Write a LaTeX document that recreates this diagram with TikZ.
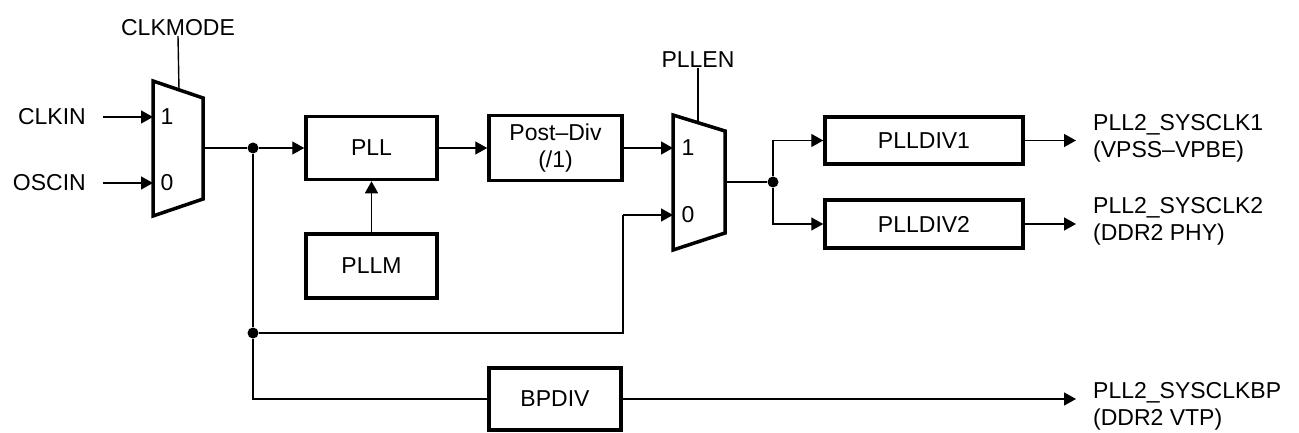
\documentclass[tikz,border=0pt]{standalone}
\usepackage{fontspec}
\setmainfont{Liberation Sans}
\usetikzlibrary{arrows.meta}

\begin{document}
\begin{tikzpicture}[x=1pt,y=-1pt,>={Triangle[length=12pt,width=13pt]},
  every node/.style={font=\fontsize{23}{27}\selectfont},
  block/.style={draw,line width=3.5pt,inner sep=0pt},
  mux/.style={draw,line width=3.5pt,line join=miter},
  wire/.style={line width=1.4pt},
  jdot/.style={circle,fill,inner sep=0pt,minimum size=11pt}]
\useasboundingbox (0,0) rectangle (1299,433);
% multiplexers
\draw[mux] (153,81) -- (203,98) -- (203,199) -- (153,216) -- cycle;
\draw[mux] (673,115) -- (725,131) -- (725,233) -- (673,250) -- cycle;
\coordinate (m1in1) at (153,117);
\coordinate (m1in0) at (153,183);
\coordinate (m1out) at (203,148);
\coordinate (m1sel) at (179,90);
\coordinate (m2in1) at (673,148);
\coordinate (m2in0) at (673,215);
\coordinate (m2out) at (725,182);
\coordinate (m2sel) at (698,123);
\coordinate (turn0) at (623,215);
\node at (167,117) {1};
\node at (167,183) {0};
\node at (688,148) {1};
\node at (688,215) {0};
% blocks
\node[block,minimum width=131pt,minimum height=63pt] (pll) at (371.5,148) {PLL};
\node[block,minimum width=131pt,minimum height=64pt] (pllm) at (371.5,266) {PLLM};
\node[block,minimum width=133pt,minimum height=65pt,align=center] (postdiv) at (555.5,148) {Post–Div\\(/1)};
\node[block,minimum width=198pt,minimum height=47pt] (plldiv1) at (924,140.5) {PLLDIV1};
\node[block,minimum width=198pt,minimum height=48pt] (plldiv2) at (924,224) {PLLDIV2};
\node[block,minimum width=132pt,minimum height=62pt] (bpdiv) at (555,399) {BPDIV};
% signal labels
\node[anchor=east,inner sep=0pt] (clkin) at (86,117) {CLKIN};
\node[anchor=east,inner sep=0pt] (oscin) at (86,183) {OSCIN};
\node[anchor=south,inner sep=0pt] (clkmode) at (178,36) {CLKMODE};
\node[anchor=south,inner sep=0pt] (pllen) at (698,68) {PLLEN};
\node[anchor=west,align=left,inner sep=0pt] (sys1) at (1093,138.5) {PLL2\_SYSCLK1\\(VPSS–VPBE)};
\node[anchor=west,align=left,inner sep=0pt] (sys2) at (1093,221.5) {PLL2\_SYSCLK2\\(DDR2 PHY)};
\node[anchor=west,align=left,inner sep=0pt] (sysbp) at (1093,406.5) {PLL2\_SYSCLKBP\\(DDR2 VTP)};
\coordinate (out1) at (1076,140.5);
\coordinate (out2) at (1076,224);
\coordinate (outbp) at (1076,399);
% junctions
\node[jdot] (dot1) at (253,148) {};
\node[jdot] (dot2) at (253,333) {};
\node[jdot] (dot3) at (773,182) {};
% connections
\draw[wire,->,shorten <=17pt] (clkin.east) -- (m1in1);
\draw[wire,->,shorten <=17pt] (oscin.east) -- (m1in0);
\draw[wire] (clkmode.south) -- (m1sel);
\draw[wire] (pllen.south) -- (m2sel);
\draw[wire] (m1out) -- (dot1);
\draw[wire,->] (dot1) -- (pll.west);
\draw[wire,->] (pll.east) -- (postdiv.west);
\draw[wire,->] (pllm.north) -- (pll.south);
\draw[wire,->] (postdiv.east) -- (m2in1);
\draw[wire] (dot1) -- (dot2);
\draw[wire] (dot2) -| (turn0);
\draw[wire,->] (turn0) -- (m2in0);
\draw[wire] (dot2) |- (bpdiv.west);
\draw[wire,->] (bpdiv.east) -- (outbp);
\draw[wire] (m2out) -- (dot3);
\draw[wire,->] (dot3) |- (plldiv1.west);
\draw[wire,->] (dot3) |- (plldiv2.west);
\draw[wire,->] (plldiv1.east) -- (out1);
\draw[wire,->] (plldiv2.east) -- (out2);
\end{tikzpicture}
\end{document}
